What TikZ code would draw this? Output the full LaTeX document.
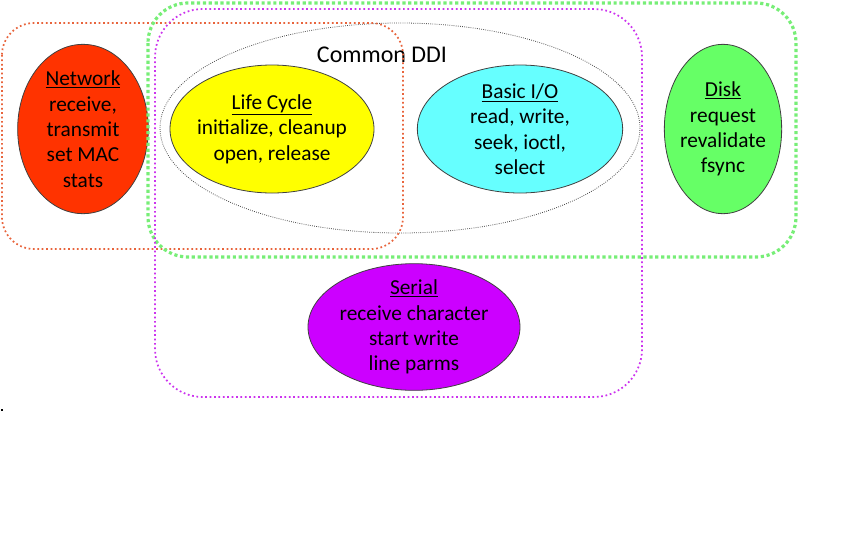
\documentclass[tikz,border=0pt]{standalone}
\usepackage{fontspec}
\setmainfont{Carlito}
\usetikzlibrary{shapes.geometric}
\definecolor{netred}{HTML}{FF3300}
\definecolor{lifeyel}{HTML}{FFFF00}
\definecolor{iocyan}{HTML}{66FFFF}
\definecolor{diskgrn}{HTML}{66FF66}
\definecolor{serpur}{HTML}{CC00FF}
\definecolor{netedge}{HTML}{E8643C}
\definecolor{diskedge}{HTML}{77EE77}
\definecolor{seredge}{HTML}{CC33EE}
\tikzset{
  grp/.style   ={draw=black!75, ellipse, inner xsep=-6pt, inner ysep=-8pt,
                 align=center, font=\fontsize{16}{19}\selectfont,
                 line width=0.6pt},
  netbox/.style ={draw=netedge, dotted, line width=1.3pt, rounded corners=24pt},
  diskbox/.style={draw=diskedge, dotted, line width=2.4pt, rounded corners=30pt},
  serbox/.style ={draw=seredge, dotted, line width=1.3pt, rounded corners=36pt},
  ddiring/.style={draw=black!70, densely dotted, line width=0.6pt},
  capt/.style   ={font=\fontsize{18}{21}\selectfont},
}
\begin{document}
\begin{tikzpicture}[x=0.75pt, y=-0.75pt]
  \useasboundingbox (0,0) rectangle (864,540);
  % common ring
  \draw[ddiring] (400,128) ellipse [x radius=240, y radius=105];
  \node[capt] (ddi) at (382,55) {Common DDI};
  % interface groups
  \node[grp, fill=netred, minimum width=98pt, minimum height=127pt]
    (net) at (83,129) {\underline{Network}\\receive,\\transmit\\set MAC\\stats};
  \node[grp, fill=lifeyel, minimum width=153pt, minimum height=96pt]
    (life) at (272,129) {\underline{Life Cycle}\\initialize, cleanup\\open, release};
  \node[grp, fill=iocyan, minimum width=154pt, minimum height=96pt]
    (bio) at (520,129) {\underline{Basic I/O}\\read, write,\\seek, ioctl,\\select};
  \node[grp, fill=diskgrn, minimum width=88pt, minimum height=127pt]
    (disk) at (723,129) {\underline{Disk}\\request\\revalidate\\fsync};
  \node[grp, fill=serpur, minimum width=159pt, minimum height=95pt]
    (ser) at (414,327) {\underline{Serial}\\receive character\\start write\\line parms};
  % driver class boxes
  \draw[netbox]  (2,23)   rectangle (403,249);
  \draw[diskbox] (148,3)  rectangle (796,257);
  \draw[serbox]  (155,9)  rectangle (642,397);
  \fill (1,409) rectangle (3,411);
\end{tikzpicture}
\end{document}
